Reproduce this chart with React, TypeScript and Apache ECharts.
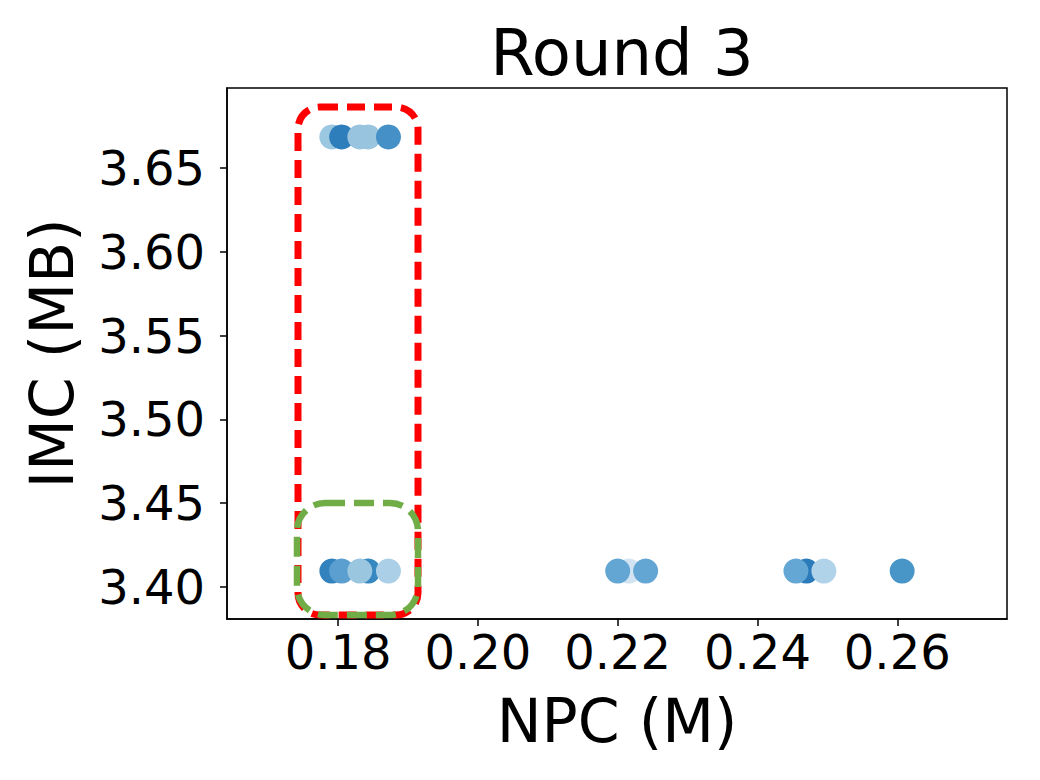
import React, { useEffect, useRef } from "react";
import * as echarts from "echarts";

// NPC (M) values, IMC (MB) values and marker shades, in drawing order
const npcValues = [
  0.1791, 0.1805, 0.1843, 0.1831, 0.1872,
  0.1791, 0.1805, 0.1843, 0.1831, 0.1872,
  0.2216, 0.2200, 0.2240,
  0.2470, 0.2455, 0.2495,
  0.2607,
];
const imcValues = [
  3.6685, 3.6685, 3.6685, 3.6685, 3.6685,
  3.4095, 3.4095, 3.4095, 3.4095, 3.4095,
  3.4095, 3.4095, 3.4095,
  3.4095, 3.4095, 3.4095,
  3.4095,
];
const shades = [
  "#9cc7e1", "#2e7ebc", "#9ac5df", "#98c4df", "#4590c7",
  "#3282bd", "#5b9fd0", "#3787c0", "#9ac6e0", "#aacfe6",
  "#d2e4f2", "#63a5d3", "#63a5d3",
  "#2b7bba", "#65a7d4", "#b1d3e9",
  "#4896c8",
];
const xTicks = [0.18, 0.2, 0.22, 0.24, 0.26];
const yTicks = [3.4, 3.45, 3.5, 3.55, 3.6, 3.65];
const titleText = "Round 3";
const xName = "NPC (M)";
const yName = "IMC (MB)";

const FONT = "DejaVu Sans";

export default function App() {
  const ref = useRef<HTMLDivElement>(null);
  useEffect(() => {
    if (!ref.current) return;
    const chart = echarts.init(ref.current, null, { renderer: "svg" });
    const data = npcValues.map((x, i) => ({
      value: [x, imcValues[i]],
      itemStyle: { color: shades[i] },
    }));
    const gridLeft = 227;
    const gridTop = 88;
    const gridW = 780;
    const gridH = 531;
    chart.setOption({
      animation: false,
      backgroundColor: "#ffffff",
      title: {
        text: titleText,
        left: gridLeft + gridW / 2,
        textAlign: "center",
        top: 16,
        textStyle: { fontFamily: FONT, fontSize: 64, fontWeight: "normal", color: "#000" },
      },
      grid: {
        left: gridLeft,
        top: gridTop,
        width: gridW,
        height: gridH,
        containLabel: false,
        outerBoundsMode: "none",
        show: true,
        borderColor: "#000",
        borderWidth: 1.5,
        backgroundColor: "transparent",
      },
      xAxis: {
        type: "value",
        min: 0.1641,
        max: 0.2757,
        name: xName,
        nameLocation: "middle",
        nameGap: 72,
        nameTextStyle: { fontFamily: FONT, fontSize: 60, color: "#000" },
        axisLine: { show: true, onZero: false, lineStyle: { color: "#000", width: 1.5 } },
        axisTick: { show: true, length: 7, customValues: xTicks, lineStyle: { color: "#000", width: 1.5 } },
        axisLabel: {
          customValues: xTicks,
          formatter: (v: number) => v.toFixed(2),
          fontFamily: FONT,
          fontSize: 48,
          color: "#000",
          margin: 9,
        },
        splitLine: { show: false },
      },
      yAxis: {
        type: "value",
        min: 3.3809,
        max: 3.6977,
        name: yName,
        nameLocation: "middle",
        nameRotate: 90,
        nameGap: 145,
        nameTextStyle: { fontFamily: FONT, fontSize: 60, color: "#000" },
        axisLine: { show: true, onZero: false, lineStyle: { color: "#000", width: 1.5 } },
        axisTick: { show: true, length: 7, customValues: yTicks, lineStyle: { color: "#000", width: 1.5 } },
        axisLabel: {
          customValues: yTicks,
          formatter: (v: number) => v.toFixed(2),
          fontFamily: FONT,
          fontSize: 48,
          color: "#000",
          margin: 22,
        },
        splitLine: { show: false },
      },
      series: [
        {
          type: "scatter",
          symbol: "circle",
          symbolSize: 25,
          data,
          itemStyle: { opacity: 1 },
          z: 2,
        },
      ],
      graphic: [
        {
          type: "rect",
          z: 100,
          shape: { x: 298, y: 107, width: 120, height: 508, r: 22 },
          style: { fill: "none", stroke: "#ff0000", lineWidth: 7, lineDash: [18, 9] },
        },
        {
          type: "rect",
          z: 101,
          shape: { x: 297, y: 503, width: 121, height: 112, r: 28 },
          style: { fill: "none", stroke: "#70ad47", lineWidth: 6.5, lineDash: [20, 9] },
        },
      ],
    });
    return () => chart.dispose();
  }, []);
  return (
    <div
      ref={ref}
      style={{ position: "fixed", left: 0, top: 0, width: 1040, height: 780, background: "#fff" }}
    />
  );
}
